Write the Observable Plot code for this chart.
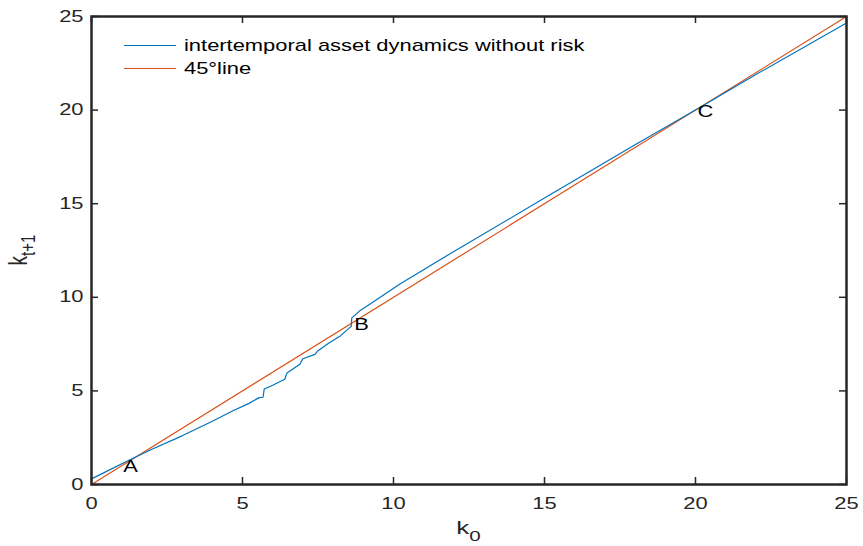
<!DOCTYPE html>
<html>
<head>
<meta charset="utf-8">
<script src="https://cdn.jsdelivr.net/npm/d3@7"></script>
<script src="https://cdn.jsdelivr.net/npm/@observablehq/plot@0.6"></script>
<style>
  html, body { margin: 0; padding: 0; background: #fff; }
  #chart { width: 863px; height: 546px; }
</style>
</head>
<body>
<div id="chart"></div>
<script>
// Capital today (k0) and next-period capital (k_{t+1}) without risk
const k0 = [0, 0.5, 1.22, 2, 3, 4, 4.7, 5.2, 5.55, 5.68, 5.72, 6.0, 6.4, 6.47, 6.9, 7.0, 7.4, 7.5,
            7.85, 8.25, 8.55, 8.6, 8.62, 8.9, 9.3, 10.2, 12, 15, 18, 20.1, 22, 25];
const kNext = [0.3, 0.7, 1.28, 1.88, 2.6, 3.38, 3.95, 4.32, 4.64, 4.66, 5.1, 5.3, 5.62, 5.95, 6.42, 6.72, 6.95, 7.15,
               7.55, 7.95, 8.38, 8.45, 8.9, 9.3, 9.72, 10.7, 12.45, 15.3, 18.15, 20.1, 21.9, 24.65];

// 45-degree reference line
const diagonal = [0, 25];

// Steady states where the dynamics cross the 45-degree line
const steadyLabels = ["A", "B", "C"];
const steadyK = [1.22, 8.6, 20.1];
const labelDx = [-5, 3, -1];
const labelDy = [5, 1, 4];

const tickValues = [0, 5, 10, 15, 20, 25];
const seriesNames = ["intertemporal asset dynamics without risk", "45°line"];
const seriesColors = ["#0072BD", "#D95319"];

const path = k0.map((k, i) => ({k0: k, k1: kNext[i]}));
const diag = diagonal.map(v => ({k0: v, k1: v}));
const steady = steadyLabels.map((s, i) => ({label: s, k: steadyK[i], dx: labelDx[i], dy: labelDy[i]}));

const font = "'Liberation Sans', Arial, Helvetica, sans-serif";
const ink = "#262626";
const stretch = 1.37;  // wide lettering
const frameH = 546 - 16 - 62;
const frameW = 863 - 91 - 17;
const tickLen = 7;

const plot = Plot.plot({
  width: 863,
  height: 546,
  marginLeft: 91,
  marginRight: 17,
  marginTop: 16,
  marginBottom: 62,
  style: {fontFamily: font, fontSize: "16px", color: ink, background: "#fff"},
  x: {domain: [0, 25]},
  y: {domain: [0, 25]},
  marks: [
    Plot.axisX(tickValues, {tickSize: 0, tickPadding: 13, label: null, fontSize: 16}),
    Plot.axisY(tickValues, {tickSize: 0, tickPadding: 8, label: null, fontSize: 16}),
    // inward tick marks on all four sides
    Plot.tickX(tickValues, {x: d => d, insetTop: frameH - tickLen, stroke: ink, strokeWidth: 1.5}),
    Plot.tickX(tickValues, {x: d => d, insetBottom: frameH - tickLen, stroke: ink, strokeWidth: 1.5}),
    Plot.tickY(tickValues, {y: d => d, insetRight: frameW - tickLen, stroke: ink, strokeWidth: 1.5}),
    Plot.tickY(tickValues, {y: d => d, insetLeft: frameW - tickLen, stroke: ink, strokeWidth: 1.5}),
    Plot.line(diag, {x: "k0", y: "k1", stroke: seriesColors[1], strokeWidth: 1.2}),
    Plot.line(path, {x: "k0", y: "k1", stroke: seriesColors[0], strokeWidth: 1.2}),
    Plot.text(steady, {x: "k", y: "k", text: "label", textAnchor: "start",
      lineAnchor: "middle", fontSize: 16, fill: "#000"}),
    Plot.frame({stroke: ink, strokeWidth: 2.5})
  ]
});

const svg = d3.select(plot);

// widen every glyph horizontally around its own anchor
svg.selectAll("text").each(function () {
  const t = this.getAttribute("transform") || "";
  let extra = "";
  if (steadyLabels.includes(this.textContent) && this.parentNode.getAttribute("aria-label") === "text") {
    const s = steady[steadyLabels.indexOf(this.textContent)];
    extra = ` translate(${s.dx},${s.dy})`;
  }
  this.setAttribute("transform", t + extra + ` scale(${stretch},1)`);
});

// legend inside the plot area, top-left
const legend = svg.append("g").attr("font-family", font).attr("font-size", 16)
  .attr("fill", "#000").attr("text-anchor", "start");
seriesNames.forEach((name, i) => {
  const y = 45.5 + i * 23;
  legend.append("line").attr("x1", 124).attr("x2", 176).attr("y1", y).attr("y2", y)
    .attr("stroke", seriesColors[i]).attr("stroke-width", 1.2);
  legend.append("text").attr("transform", `translate(184,${y}) scale(${stretch},1)`)
    .attr("dy", "0.35em").text(name);
});

// axis titles with subscripts
const xt = svg.append("text").attr("transform", `translate(468.5,534) scale(${stretch},1)`)
  .attr("font-family", font).attr("text-anchor", "middle").attr("font-size", 19).attr("fill", ink);
xt.append("tspan").text("k");
xt.append("tspan").attr("font-size", 15).attr("dy", 7).text("0");

const yt = svg.append("text").attr("transform", `translate(27,250) scale(${stretch},1) rotate(-90)`)
  .attr("font-family", font).attr("text-anchor", "middle").attr("font-size", 19).attr("fill", ink);
yt.append("tspan").text("k");
yt.append("tspan").attr("font-size", 15).attr("dy", 6).text("t+1");

document.getElementById("chart").appendChild(plot);
</script>
</body>
</html>
